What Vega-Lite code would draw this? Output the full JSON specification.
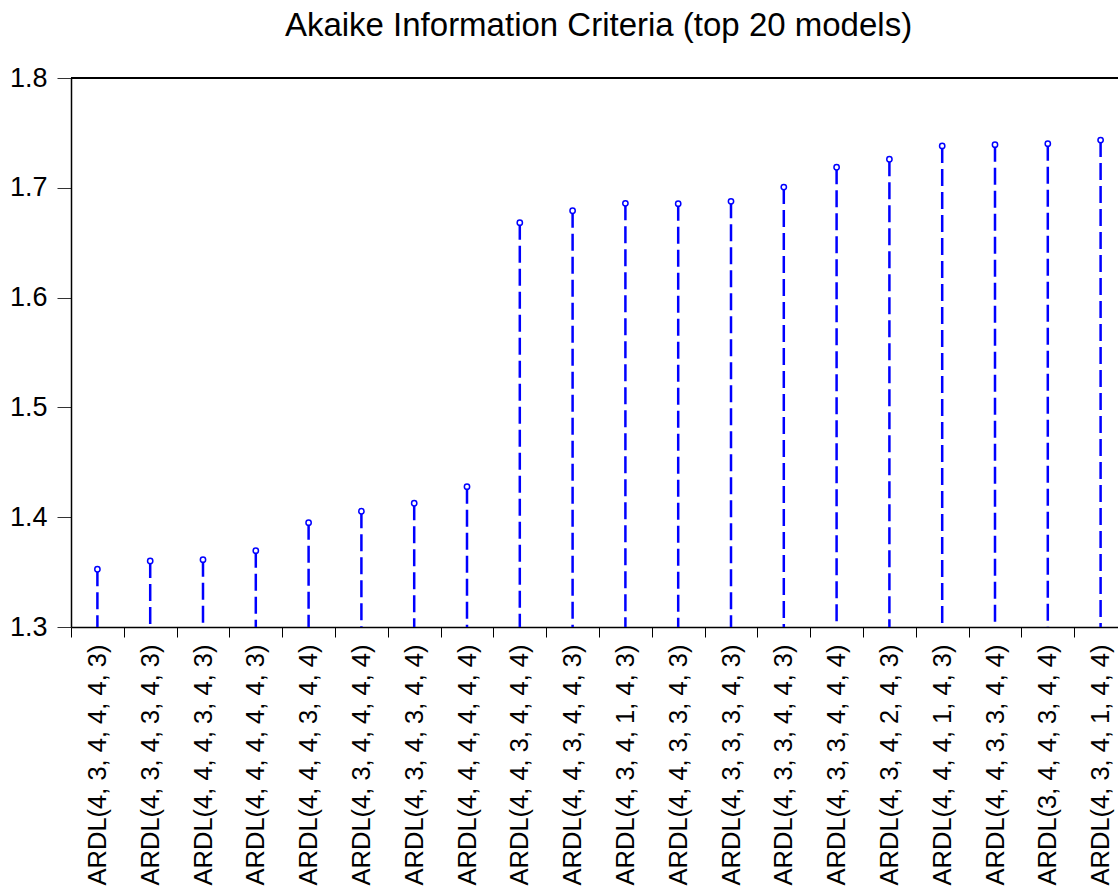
{
  "$schema": "https://vega.github.io/schema/vega-lite/v6.json",
  "width": 1047,
  "height": 549,
  "autosize": {"type": "none"},
  "padding": {"left": 71, "top": 78, "right": 0, "bottom": 263},
  "background": "white",
  "config": {
    "font": "Liberation Sans",
    "view": {"stroke": null}
  },
  "title": {
    "text": "Akaike Information Criteria (top 20 models)",
    "font": "Liberation Sans",
    "fontSize": 33,
    "fontWeight": "normal",
    "color": "black",
    "anchor": "middle",
    "frame": "group",
    "baseline": "alphabetic",
    "offset": 0,
    "dy": 5,
    "dx": 4
  },
  "data": {
    "values": [
      {"model": "ARDL(4, 3, 4, 4, 4, 3)", "aic": 1.3526},
      {"model": "ARDL(4, 3, 4, 3, 4, 3)", "aic": 1.3601},
      {"model": "ARDL(4, 4, 4, 3, 4, 3)", "aic": 1.3613},
      {"model": "ARDL(4, 4, 4, 4, 4, 3)", "aic": 1.3695},
      {"model": "ARDL(4, 4, 4, 3, 4, 4)", "aic": 1.395},
      {"model": "ARDL(4, 3, 4, 4, 4, 4)", "aic": 1.4054},
      {"model": "ARDL(4, 3, 4, 3, 4, 4)", "aic": 1.4127},
      {"model": "ARDL(4, 4, 4, 4, 4, 4)", "aic": 1.4278},
      {"model": "ARDL(4, 4, 3, 4, 4, 4)", "aic": 1.6682},
      {"model": "ARDL(4, 4, 3, 4, 4, 3)", "aic": 1.6791},
      {"model": "ARDL(4, 3, 4, 1, 4, 3)", "aic": 1.6859},
      {"model": "ARDL(4, 4, 3, 3, 4, 3)", "aic": 1.6855},
      {"model": "ARDL(4, 3, 3, 3, 4, 3)", "aic": 1.6877},
      {"model": "ARDL(4, 3, 3, 4, 4, 3)", "aic": 1.7007},
      {"model": "ARDL(4, 3, 3, 4, 4, 4)", "aic": 1.7187},
      {"model": "ARDL(4, 3, 4, 2, 4, 3)", "aic": 1.726},
      {"model": "ARDL(4, 4, 4, 1, 4, 3)", "aic": 1.7381},
      {"model": "ARDL(4, 4, 3, 3, 4, 4)", "aic": 1.7393},
      {"model": "ARDL(3, 4, 4, 3, 4, 4)", "aic": 1.7402},
      {"model": "ARDL(4, 3, 4, 1, 4, 4)", "aic": 1.7435}
    ]
  },
  "encoding": {
    "x": {
      "field": "model",
      "type": "nominal",
      "sort": null,
      "title": null,
      "scale": {"range": [0, 1056], "paddingInner": 0, "paddingOuter": 0},
      "axis": {
        "tickBand": "extent",
        "labelAngle": -90,
        "labelAlign": "right",
        "labelBaseline": "middle",
        "labelFont": "Liberation Sans",
        "labelFontSize": 25.5,
        "labelColor": "black",
        "labelPadding": 7,
        "labelLimit": 0,
        "labelOverlap": false,
        "tickSize": 10,
        "tickColor": "black",
        "tickWidth": 1,
        "domainColor": "black",
        "domainWidth": 1.5,
        "grid": false
      }
    }
  },
  "layer": [
    {
      "mark": {"type": "rule", "color": "black", "strokeWidth": 1.5},
      "encoding": {"x": null, "y": {"datum": 1.8, "type": "quantitative"}}
    },
    {
      "mark": {"type": "rule", "color": "#0000FF", "strokeWidth": 2.5, "strokeDash": [17, 6]},
      "encoding": {
        "y": {
          "field": "aic",
          "type": "quantitative",
          "title": null,
          "scale": {"domain": [1.3, 1.8], "zero": false, "nice": false},
          "axis": {
            "values": [1.3, 1.4, 1.5, 1.6, 1.7, 1.8],
            "format": ".1f",
            "labelFont": "Liberation Sans",
            "labelFontSize": 27,
            "labelColor": "black",
            "labelPadding": 10,
            "tickSize": 14,
            "tickColor": "#333333",
            "tickWidth": 1,
            "domainColor": "black",
            "domainWidth": 1.5,
            "grid": false
          }
        },
        "y2": {"datum": 1.3}
      }
    },
    {
      "mark": {"type": "point", "shape": "circle", "filled": false, "fill": "white", "fillOpacity": 1, "stroke": "#0000FF", "strokeWidth": 1.5, "size": 28, "opacity": 1},
      "encoding": {
        "y": {"field": "aic", "type": "quantitative"}
      }
    }
  ]
}
